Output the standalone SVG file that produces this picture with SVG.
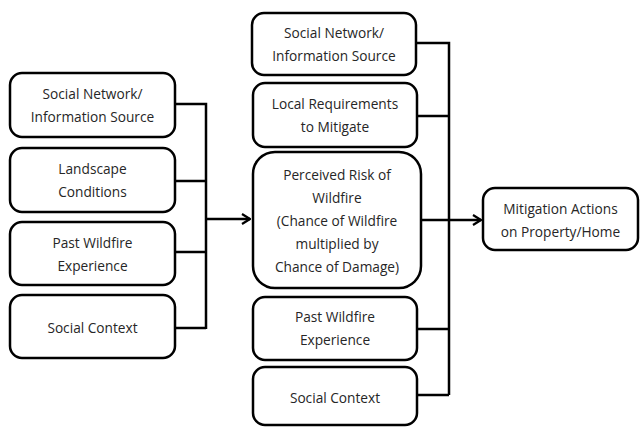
<svg xmlns="http://www.w3.org/2000/svg" width="641" height="427" viewBox="0 0 641 427">
<defs>
<style>
.box{fill:#fff;stroke:#000;stroke-width:2.5}
.t{font-family:"Open Sans","Noto Sans",sans-serif;font-size:13.7px;fill:#262626;text-anchor:middle;dominant-baseline:central}
.c{fill:none;stroke:#000;stroke-width:2.5}
</style>
<marker id="ah" viewBox="0 0 10 12" refX="9" refY="6" markerWidth="10" markerHeight="12" markerUnits="userSpaceOnUse" orient="auto">
<polyline points="1,1 9,6 1,11" fill="none" stroke="#000" stroke-width="2.2"/>
</marker>
</defs>
<rect width="641" height="427" fill="#fff"/>
<g id="connectors">
<path class="c" d="M175,104 H206 V329 M175,181 H206 M175,252 H206 M175,328 H206"/>
<path class="c" d="M206,219 H250" marker-end="url(#ah)"/>
<path class="c" d="M416,43 H449 V395 M416,116 H449 M416,329 H449 M416,395 H449"/>
<path class="c" d="M421,220 H481" marker-end="url(#ah)"/>
</g>
<g id="l1"><rect class="box" x="10" y="73" width="165" height="64" rx="12"/><text class="t" x="92.5" y="93.5">Social Network/</text><text class="t" x="92.5" y="116.5">Information Source</text></g>
<g id="l2"><rect class="box" x="10" y="148" width="165" height="64" rx="12"/><text class="t" x="92.5" y="168.5">Landscape</text><text class="t" x="92.5" y="191.5">Conditions</text></g>
<g id="l3"><rect class="box" x="10" y="222" width="165" height="63" rx="12"/><text class="t" x="92.5" y="242">Past Wildfire</text><text class="t" x="92.5" y="265">Experience</text></g>
<g id="l4"><rect class="box" x="10" y="295" width="165" height="63" rx="12"/><text class="t" x="92.5" y="327">Social Context</text></g>
<g id="m1"><rect class="box" x="252" y="13" width="164" height="62" rx="12"/><text class="t" x="334" y="32">Social Network/</text><text class="t" x="334" y="55">Information Source</text></g>
<g id="m2"><rect class="box" x="253" y="83" width="164" height="64" rx="12"/><text class="t" x="335" y="103">Local Requirements</text><text class="t" x="335" y="126">to Mitigate</text></g>
<g id="m3"><rect class="box" x="253" y="152" width="168" height="136" rx="22"/><text class="t" x="337" y="174">Perceived Risk of</text><text class="t" x="337" y="197">Wildfire</text><text class="t" x="337" y="220">(Chance of Wildfire</text><text class="t" x="337" y="243">multiplied by</text><text class="t" x="337" y="266">Chance of Damage)</text></g>
<g id="m4"><rect class="box" x="253" y="297" width="164" height="63" rx="12"/><text class="t" x="335" y="316">Past Wildfire</text><text class="t" x="335" y="339">Experience</text></g>
<g id="m5"><rect class="box" x="253" y="367" width="164" height="58" rx="12"/><text class="t" x="335" y="397">Social Context</text></g>
<g id="out"><rect class="box" x="483" y="188" width="155" height="62" rx="12"/><text class="t" x="560.5" y="208">Mitigation Actions</text><text class="t" x="560.5" y="231">on Property/Home</text></g>
</svg>
